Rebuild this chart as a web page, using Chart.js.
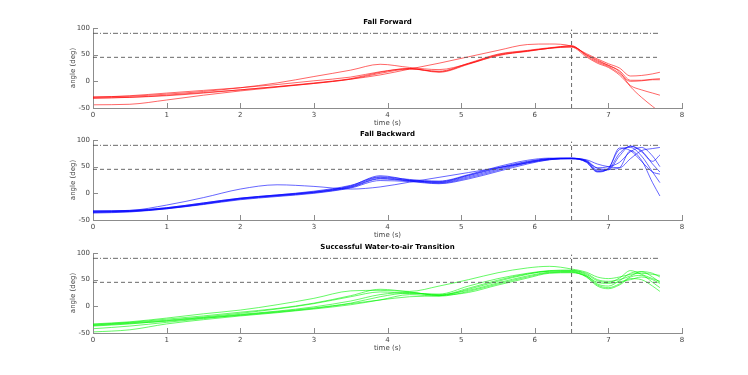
<!DOCTYPE html>
<html>
<head>
<meta charset="utf-8">
<script src="https://cdn.jsdelivr.net/npm/chart.js@4.4.0/dist/chart.umd.min.js"></script>
<style>
    body { margin: 0; background: #fff; width: 748px; height: 375px; overflow: hidden; position: relative; }
    canvas { position: absolute; left: 0; }
</style>
</head>
<body>
<canvas id="graficoAdelante" width="748" height="130" style="top:0px"></canvas>
<canvas id="graficoAtras" width="748" height="130" style="top:112px"></canvas>
<canvas id="graficoTransicion" width="748" height="130" style="top:225px"></canvas>
<script>
// Tiempos comunes (s)
const TIEMPO = [0, 0.5, 1, 1.5, 2, 2.5, 3, 3.5, 3.9, 4.3, 4.7, 5.1, 5.5, 5.9, 6.2, 6.5, 6.7, 6.85, 7.0, 7.15, 7.3, 7.45, 7.6, 7.7];

// Fall Forward (deg)
const ADELANTE_1 = [-44, -43, -35, -26, -18, -11, -4, 4, 12, 23, 34, 46, 58, 69, 70, 66, 52, 42, 33, 25, 10, 11, 14, 17];
const ADELANTE_2 = [-29, -28, -24, -19, -12, -3, 9, 21, 32, 26, 22, 33, 48, 57, 62, 65, 50, 38, 30, 20, 2, 2, 4, 5];
const ADELANTE_3 = [-30, -27, -22, -17, -12, -6, 1, 8, 18, 24, 18, 33, 50, 57, 62, 67, 48, 36, 28, 15, 0, 1, 3, 3];
const ADELANTE_4 = [-31, -30, -27, -22, -16, -10, -3, 5, 17, 24, 17, 32, 49, 56, 62, 64, 46, 34, 26, 12, -8, -16, -22, -26];
const ADELANTE_5 = [-32, -30, -26, -21, -16, -10, -4, 4, 15, 23, 19, 34, 51, 58, 63, 66, 50, 40, 30, 18, -10, -30, -47, -58];

// Fall Backward (deg)
const ATRAS_1 = [-33, -32, -22, -8, 8, 16, 13, 8, 12, 21, 30, 39, 48, 57, 63, 65, 60, 42, 45, 75, 88, 80, 55, 40];
const ATRAS_2 = [-34, -33, -28, -19, -10, -4, 2, 13, 30, 24, 22, 34, 48, 60, 65, 66, 58, 40, 47, 82, 86, 70, 40, 20];
const ATRAS_3 = [-35, -33, -27, -18, -9, -3, 3, 14, 33, 25, 20, 31, 45, 58, 64, 65, 62, 48, 50, 58, 78, 86, 70, 50];
const ATRAS_4 = [-36, -34, -29, -20, -11, -5, 1, 11, 27, 23, 19, 29, 43, 57, 64, 65, 63, 55, 50, 48, 65, 80, 84, 86];
const ATRAS_5 = [-37, -35, -29, -21, -12, -6, 0, 10, 24, 22, 18, 27, 41, 55, 63, 66, 61, 44, 44, 70, 89, 78, 60, 72];
const ATRAS_6 = [-33, -32, -27, -18, -9, -3, 4, 15, 31, 26, 23, 35, 50, 62, 66, 65, 60, 47, 45, 48, 80, 62, 20, -5];
const ATRAS_7 = [-35, -34, -28, -20, -10, -4, 2, 12, 28, 24, 21, 33, 47, 59, 65, 66, 59, 41, 46, 85, 80, 60, 40, 36];

// Successful Water-to-air Transition (deg)
const TRANSICION_1 = [-33, -29, -22, -14, -7, 3, 15, 29, 30, 28, 38, 50, 63, 72, 75, 70, 64, 55, 52, 55, 60, 62, 60, 58];
const TRANSICION_2 = [-35, -31, -26, -20, -13, -5, 5, 18, 27, 24, 23, 38, 52, 62, 67, 68, 60, 48, 45, 53, 67, 60, 52, 47];
const TRANSICION_3 = [-37, -33, -27, -21, -15, -9, -1, 10, 22, 26, 20, 32, 47, 60, 66, 66, 58, 42, 38, 48, 62, 65, 55, 45];
const TRANSICION_4 = [-42, -37, -30, -23, -16, -10, -3, 6, 18, 25, 22, 30, 44, 57, 64, 65, 56, 40, 35, 42, 55, 58, 45, 35];
const TRANSICION_5 = [-48, -44, -33, -25, -18, -12, -5, 3, 12, 22, 19, 28, 42, 55, 63, 64, 55, 38, 33, 40, 52, 50, 38, 28];
const TRANSICION_6 = [-34, -30, -24, -18, -11, -4, 6, 20, 32, 27, 21, 34, 49, 61, 66, 67, 62, 50, 47, 50, 57, 65, 62, 55];
const TRANSICION_7 = [-36, -32, -28, -22, -17, -11, -4, 5, 12, 18, 20, 26, 40, 53, 62, 63, 57, 45, 43, 46, 50, 55, 50, 43];

// Referencias
const NIVEL_SUPERIOR = 90;
const NIVEL_MEDIO = 45;
const T_EVENTO = 6.5;
const T_INICIO = 0;
const T_FIN = 7.7;
const TOPE_EVENTO = 97;

// Colores del tema
const COLORES = {
    rojo: 'rgba(255, 0, 0, 0.6)',
    azul: 'rgba(0, 0, 255, 0.6)',
    verde: 'rgba(0, 245, 0, 0.6)',
    referencia: 'rgba(80, 80, 80, 0.85)',
    eje: '#8c8c8c',
    texto: '#444'
};

const FUENTE = 'DejaVu Sans';

// Marcas hacia adentro y textos de ejes
const marcasInternas = {
    id: 'marcasInternas',
    afterDraw(chart, args, opciones) {
        const { ctx, chartArea, scales } = chart;
        ctx.save();
        ctx.strokeStyle = COLORES.eje;
        ctx.lineWidth = 1;
        ctx.beginPath();
        scales.x.ticks.forEach(t => {
            const px = Math.round(scales.x.getPixelForValue(t.value)) + 0.5;
            ctx.moveTo(px, chartArea.bottom);
            ctx.lineTo(px, chartArea.bottom - 5);
        });
        scales.y.ticks.forEach(t => {
            const py = Math.round(scales.y.getPixelForValue(t.value)) + 0.5;
            ctx.moveTo(chartArea.left, py);
            ctx.lineTo(chartArea.left + 5, py);
        });
        ctx.stroke();

        const centro = (chartArea.left + chartArea.right) / 2;
        ctx.fillStyle = '#000';
        ctx.font = 'bold 7px "' + FUENTE + '"';
        ctx.textAlign = 'center';
        ctx.textBaseline = 'middle';
        ctx.fillText(opciones.titulo, centro, chartArea.top - 6);

        ctx.fillStyle = COLORES.texto;
        ctx.font = '7px "' + FUENTE + '"';
        ctx.fillText('time (s)', centro, chartArea.bottom + 15);

        ctx.translate(chartArea.left - 20, (chartArea.top + chartArea.bottom) / 2);
        ctx.rotate(-Math.PI / 2);
        ctx.fillText('angle (deg)', 0, 0);
        ctx.restore();
    }
};

function serie(valores, color) {
    return {
        data: valores.map((v, i) => ({ x: TIEMPO[i], y: v })),
        borderColor: color,
        borderWidth: 1,
        pointRadius: 0,
        fill: false,
        cubicInterpolationMode: 'monotone'
    };
}

function referencia(puntos, patron) {
    return {
        data: puntos,
        borderColor: COLORES.referencia,
        borderWidth: 1,
        borderDash: patron,
        pointRadius: 0,
        fill: false,
        tension: 0
    };
}

// Crear cada subgráfico
function crearGrafico(idCanvas, titulo, series, color) {
    const ctx = document.getElementById(idCanvas).getContext('2d');
    const datasets = [
        referencia([{ x: T_INICIO, y: NIVEL_SUPERIOR }, { x: T_FIN, y: NIVEL_SUPERIOR }], [5, 2, 1, 2]),
        referencia([{ x: T_INICIO, y: NIVEL_MEDIO }, { x: T_FIN, y: NIVEL_MEDIO }], [4, 3]),
        referencia([{ x: T_EVENTO, y: -50 }, { x: T_EVENTO, y: TOPE_EVENTO }], [4, 3])
    ];
    series.forEach(s => datasets.push(serie(s, color)));

    const rejilla = { display: true, drawOnChartArea: false, drawTicks: false };

    return new Chart(ctx, {
        type: 'line',
        data: { datasets: datasets },
        options: {
            responsive: false,
            animation: false,
            devicePixelRatio: 1,
            layout: {
                padding: { top: 28, left: 63, right: 66, bottom: 0 }
            },
            plugins: {
                legend: { display: false },
                tooltip: { enabled: false },
                marcasInternas: { titulo: titulo }
            },
            scales: {
                x: {
                    type: 'linear',
                    min: 0,
                    max: 8,
                    grid: rejilla,
                    border: { display: true, color: COLORES.eje, width: 1 },
                    ticks: {
                        stepSize: 1,
                        padding: 3,
                        color: COLORES.texto,
                        font: { family: FUENTE, size: 7 },
                        maxRotation: 0
                    },
                    afterFit: function(escala) { escala.height = 22; }
                },
                y: {
                    min: -50,
                    max: 100,
                    grid: rejilla,
                    border: { display: true, color: COLORES.eje, width: 1 },
                    ticks: {
                        stepSize: 50,
                        padding: 3,
                        color: COLORES.texto,
                        font: { family: FUENTE, size: 7 }
                    },
                    afterFit: function(escala) { escala.width = 30; }
                }
            }
        },
        plugins: [marcasInternas]
    });
}

crearGrafico('graficoAdelante', 'Fall Forward',
    [ADELANTE_1, ADELANTE_2, ADELANTE_3, ADELANTE_4, ADELANTE_5], COLORES.rojo);
crearGrafico('graficoAtras', 'Fall Backward',
    [ATRAS_1, ATRAS_2, ATRAS_3, ATRAS_4, ATRAS_5, ATRAS_6, ATRAS_7], COLORES.azul);
crearGrafico('graficoTransicion', 'Successful Water-to-air Transition',
    [TRANSICION_1, TRANSICION_2, TRANSICION_3, TRANSICION_4, TRANSICION_5, TRANSICION_6, TRANSICION_7], COLORES.verde);
</script>
</body>
</html>
